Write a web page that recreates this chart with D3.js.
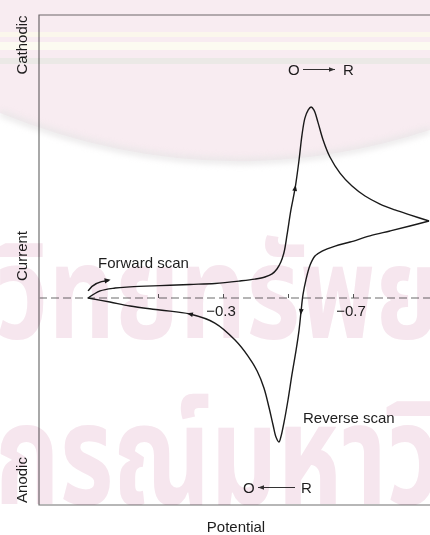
<!DOCTYPE html>
<html>
<head>
<meta charset="utf-8">
<script src="https://cdn.jsdelivr.net/npm/d3@7/dist/d3.min.js"></script>
<style>
  html, body { margin: 0; padding: 0; background: #fff; }
  svg { display: block; }
  .lbl { font-family: "Liberation Sans", Arial, Helvetica, sans-serif; font-size: 15px; fill: #1e1e1e; }
</style>
</head>
<body>
<svg id="chart" width="430" height="535"></svg>
<script>
// Cyclic voltammogram: potential (V) vs. current (arbitrary units, cathodic positive)
const fwdPotential = [0.115, 0.078, 0.032, -0.014, -0.106, -0.198, -0.275, -0.352, -0.398, -0.429, -0.451, -0.466, -0.478, -0.488, -0.497, -0.509, -0.522, -0.534, -0.543, -0.552, -0.562, -0.571, -0.580, -0.592, -0.608, -0.629, -0.660, -0.697, -0.737, -0.783, -0.829, -0.875, -0.934];
const fwdCurrent   = [0, 0.37, 0.52, 0.58, 0.65, 0.71, 0.76, 0.89, 0.99, 1.10, 1.26, 1.52, 1.88, 2.41, 3.30, 4.61, 5.76, 7.23, 8.53, 9.42, 9.84, 10.0, 9.84, 9.21, 8.27, 7.38, 6.54, 5.86, 5.34, 4.92, 4.61, 4.35, 4.03];

const revPotential = [-0.934, -0.875, -0.814, -0.752, -0.691, -0.645, -0.605, -0.583, -0.568, -0.555, -0.546, -0.540, -0.534, -0.525, -0.512, -0.500, -0.488, -0.478, -0.472, -0.463, -0.454, -0.442, -0.426, -0.405, -0.377, -0.337, -0.275, -0.198, -0.106, -0.014, 0.048, 0.115];
const revCurrent   = [4.03, 3.77, 3.51, 3.25, 2.93, 2.72, 2.46, 2.20, 1.73, 0.94, 0.16, -0.73, -1.68, -2.72, -4.03, -5.34, -6.49, -7.28, -7.54, -7.28, -6.65, -5.76, -4.71, -3.82, -3.04, -2.20, -1.31, -0.84, -0.63, -0.42, -0.21, 0];

const tickValues = [-0.1, -0.3, -0.5, -0.7];
const tickLabels = ["", "\u22120.3", "", "\u22120.7"];

// indices on each branch where a direction arrowhead sits
const fwdArrowAt = [16];
const revArrowAt = [11, 27];

const W = 430, H = 535;
const frame = { left: 39, top: 15, bottom: 505, right: 440 };

const svg = d3.select("#chart");

// potential increases to the left (negative to the right)
const x = d3.scaleLinear().domain([0.2, -1.0]).range([60.5, 450.5]);
const y = d3.scaleLinear().domain([-10, 10]).range([489, 107]);

const fwd = fwdPotential.map((e, i) => [e, fwdCurrent[i]]);
const rev = revPotential.map((e, i) => [e, revCurrent[i]]);

// frame (left, top, bottom)
svg.append("path")
  .attr("d", `M${frame.right},${frame.top}H${frame.left}V${frame.bottom}H${frame.right}`)
  .attr("fill", "none").attr("stroke", "#707070").attr("stroke-width", 1.2);

// zero-current baseline
svg.append("line")
  .attr("x1", frame.left).attr("x2", W)
  .attr("y1", y(0)).attr("y2", y(0))
  .attr("stroke", "#9d9d9d").attr("stroke-width", 1.5)
  .attr("stroke-dasharray", "8,4");

// potential axis drawn on the baseline
const axis = d3.axisTop(x).tickValues(tickValues).tickSize(4).tickFormat("");
const ax = svg.append("g").attr("transform", `translate(0,${y(0)})`).call(axis);
ax.select(".domain").remove();
ax.selectAll(".tick line").attr("stroke", "#555").attr("stroke-width", 1);

svg.append("g").selectAll("text")
  .data(tickValues)
  .join("text")
  .attr("class", "lbl")
  .attr("x", d => x(d) - 2)
  .attr("y", y(0) + 18)
  .attr("text-anchor", "middle")
  .text((d, i) => tickLabels[i]);

// voltammogram trace
const line = d3.line().x(d => x(d[0])).y(d => y(d[1])).curve(d3.curveCatmullRom.alpha(0.5));
[fwd, rev].forEach(branch => {
  svg.append("path").attr("d", line(branch))
    .attr("fill", "none").attr("stroke", "#1a1a1a").attr("stroke-width", 1.4)
    .attr("stroke-linejoin", "round");
});

// direction arrowheads along the trace
function arrowHead(px, py, dx, dy, len, half) {
  const n = Math.hypot(dx, dy); const ux = dx / n, uy = dy / n;
  const bx = px - ux * len, by = py - uy * len;
  return `M${px},${py}L${bx - uy * half},${by + ux * half}L${bx + uy * half},${by - ux * half}Z`;
}
function branchArrow(branch, k) {
  const p = branch[k], a = branch[k - 1], b = branch[k + 1];
  const px = x(p[0]), py = y(p[1]);
  const dx = x(b[0]) - x(a[0]), dy = y(b[1]) - y(a[1]);
  return arrowHead(px + 3 * dx / Math.hypot(dx, dy), py + 3 * dy / Math.hypot(dx, dy), dx, dy, 6, 2.4);
}
fwdArrowAt.forEach(k => svg.append("path").attr("d", branchArrow(fwd, k)).attr("fill", "#1a1a1a"));
revArrowAt.forEach(k => svg.append("path").attr("d", branchArrow(rev, k)).attr("fill", "#1a1a1a"));

// "Forward scan" curved pointer
const fsStart = [0.115, 0.37], fsCtrl = [0.100, 0.85], fsEnd = [0.052, 0.92];
svg.append("path")
  .attr("d", `M${x(fsStart[0])},${y(fsStart[1])}Q${x(fsCtrl[0])},${y(fsCtrl[1])} ${x(fsEnd[0])},${y(fsEnd[1])}`)
  .attr("fill", "none").attr("stroke", "#1a1a1a").attr("stroke-width", 1.4);
svg.append("path")
  .attr("d", arrowHead(x(fsEnd[0]) + 2, y(fsEnd[1]) - 0.6, x(fsEnd[0]) - x(fsCtrl[0]), y(fsEnd[1]) - y(fsCtrl[1]) - 1.5, 6, 2.6))
  .attr("fill", "#1a1a1a");

// text annotations
svg.append("text").attr("class", "lbl").attr("x", 98).attr("y", 268).text("Forward scan");
svg.append("text").attr("class", "lbl").attr("x", 303).attr("y", 423).text("Reverse scan");
svg.append("text").attr("class", "lbl").attr("x", 236).attr("y", 532).attr("text-anchor", "middle").text("Potential");

const yLabels = [["Cathodic", 45], ["Current", 256], ["Anodic", 480]];
yLabels.forEach(([t, cy]) => {
  svg.append("text").attr("class", "lbl")
    .attr("transform", `translate(27,${cy}) rotate(-90)`)
    .attr("text-anchor", "middle").text(t);
});

// reaction labels O -> R and O <- R
function reaction(ox, base, toRight) {
  const g = svg.append("g");
  g.append("text").attr("class", "lbl").attr("x", ox).attr("y", base).text("O");
  g.append("text").attr("class", "lbl").attr("x", ox + (toRight ? 55 : 58)).attr("y", base).text("R");
  const x1 = ox + 15, x2 = ox + (toRight ? 47 : 52);
  const my = base - 5.5;
  g.append("line").attr("x1", x1).attr("x2", x2).attr("y1", my).attr("y2", my)
    .attr("stroke", "#333").attr("stroke-width", 1);
  const tip = toRight ? x2 : x1;
  g.append("path").attr("d", arrowHead(tip, my, toRight ? 1 : -1, 0, 6, 2.3)).attr("fill", "#333");
}
reaction(288, 75, true);
reaction(243, 493, false);

// pale pink paper overlay with print stripes and faint watermark
svg.append("defs").append("clipPath").attr("id", "paper")
  .append("rect").attr("x", 0).attr("y", 0).attr("width", W).attr("height", frame.bottom);
const wm = svg.append("g").attr("clip-path", "url(#paper)")
  .style("mix-blend-mode", "multiply").attr("pointer-events", "none");
wm.append("path")
  .attr("d", "M0,0H430V130Q215,200 0,113Z")
  .attr("fill", "#f8ecf1");
wm.append("path")
  .attr("d", "M0,113Q215,200 430,130")
  .attr("fill", "none").attr("stroke", "#e8e6e7").attr("stroke-width", 6)
  .style("filter", "blur(3px)");
wm.append("rect").attr("x", 0).attr("y", 32).attr("width", W).attr("height", 5).attr("fill", "#fbf7ec");
wm.append("rect").attr("x", 0).attr("y", 42).attr("width", W).attr("height", 8).attr("fill", "#fcfbf1");
wm.append("rect").attr("x", 0).attr("y", 58).attr("width", W).attr("height", 6).attr("fill", "#ebe9e6");
const thaiFont = "'Noto Sans Thai', 'Noto Sans', 'DejaVu Sans', sans-serif";
wm.append("text").attr("x", -5).attr("y", 338)
  .attr("textLength", 445).attr("lengthAdjust", "spacingAndGlyphs")
  .style("font-family", thaiFont).style("font-weight", "bold")
  .style("font-size", "130px").attr("fill", "#f6e6ee")
  .text("วิทยทรัพย");
wm.append("text").attr("x", -5).attr("y", 504)
  .attr("textLength", 445).attr("lengthAdjust", "spacingAndGlyphs")
  .style("font-family", thaiFont).style("font-weight", "bold")
  .style("font-size", "140px").attr("fill", "#f6e6ee")
  .text("กรณ์มหาวิ");
</script>
</body>
</html>
